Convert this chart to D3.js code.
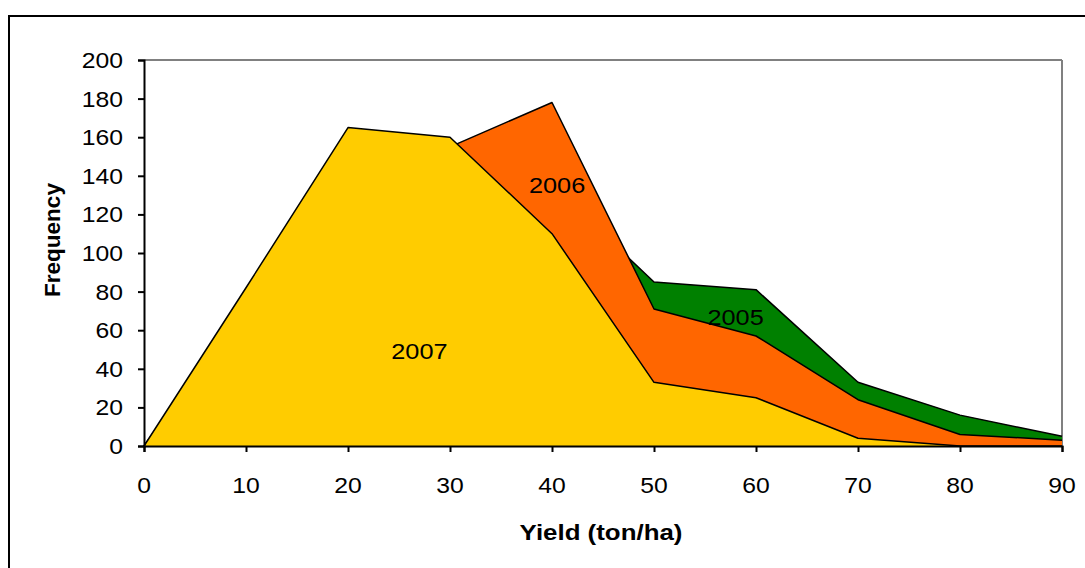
<!DOCTYPE html>
<html><head><meta charset="utf-8">
<script src="https://cdn.jsdelivr.net/npm/d3@7"></script>
<style>body{margin:0;background:#fff}svg{display:block}text{font-family:"Liberation Sans",Arial,sans-serif}</style>
</head><body>
<script>
const yieldBins = [0, 10, 20, 30, 40, 50, 60, 70, 80, 90];
const years = ["2005", "2006", "2007"];
const freq2005 = [0, 70, 140, 150, 135, 85, 81, 33, 16, 5];
const freq2006 = [0, 75, 120, 155, 178, 71, 57, 24, 6, 3];
const freq2007 = [0, 82, 165, 160, 110, 33, 25, 4, 0, 0];
const yTicks = [0, 20, 40, 60, 80, 100, 120, 140, 160, 180, 200];
const xTicks = [0, 10, 20, 30, 40, 50, 60, 70, 80, 90];
const colors = ["#008000", "#FF6600", "#FFCC00"];
const labelAt = [[58, 67], [40.5, 135], [27, 49]];

const W = 1085, H = 568, SX = 1.15;
const svg = d3.select("body").append("svg").attr("width", W).attr("height", H);
svg.append("rect").attr("x", 9).attr("y", 16).attr("width", 1200).attr("height", 700)
  .attr("fill", "none").attr("stroke", "#000").attr("stroke-width", 2);

const x = d3.scaleLinear().domain([0, 90]).range([144, 1062]);
const y = d3.scaleLinear().domain([0, 200]).range([446, 60]);

svg.append("line").attr("x1", 144).attr("x2", 1062).attr("y1", y(200)).attr("y2", y(200)).attr("stroke", "#808080").attr("stroke-width", 2);
svg.append("line").attr("x1", 1062).attr("x2", 1062).attr("y1", y(200)).attr("y2", y(0)).attr("stroke", "#808080").attr("stroke-width", 2);

const series = [freq2005, freq2006, freq2007];
const area = d3.area().x((d, i) => x(yieldBins[i])).y0(y(0)).y1(d => y(d));
const line = d3.line().x((d, i) => x(yieldBins[i])).y(d => y(d));
series.forEach((s, k) => {
  svg.append("path").attr("d", area(s)).attr("fill", colors[k]);
  svg.append("path").attr("d", line(s)).attr("fill", "none").attr("stroke", "#000").attr("stroke-width", 1.5).attr("stroke-linejoin", "round");
});

function htext(t, px, py, size, weight, anchor) {
  const g = svg.append("g").attr("transform", `translate(${px},${py}) scale(${SX},1)`);
  g.append("text").attr("text-anchor", anchor).attr("font-size", size).attr("font-weight", weight).attr("fill", "#000").text(t);
}

const yAxis = d3.axisLeft(y).tickValues(yTicks).tickSize(6).tickFormat("");
const yg = svg.append("g").attr("transform", "translate(144,0)").call(yAxis);
const xAxis = d3.axisBottom(x).tickValues(xTicks).tickSize(6).tickFormat("");
const xg = svg.append("g").attr("transform", `translate(0,${y(0)})`).call(xAxis);
[yg, xg].forEach(g => { g.selectAll("path,line").attr("stroke", "#000").attr("stroke-width", 2); });

yTicks.forEach(v => htext(String(v), 123, y(v) + 8, 21.5, "normal", "end"));
xTicks.forEach(v => htext(String(v), x(v), 493, 21.5, "normal", "middle"));

years.forEach((yr, k) => htext(yr, x(labelAt[k][0]), y(labelAt[k][1]) + 8, 22, "normal", "middle"));

htext("Yield (ton/ha)", 601, 540, 22.5, "bold", "middle");
svg.append("text").attr("transform", "translate(60,240) rotate(-90)").attr("text-anchor", "middle")
  .attr("font-size", 22.5).attr("font-weight", "bold").text("Frequency");
</script>
</body></html>
